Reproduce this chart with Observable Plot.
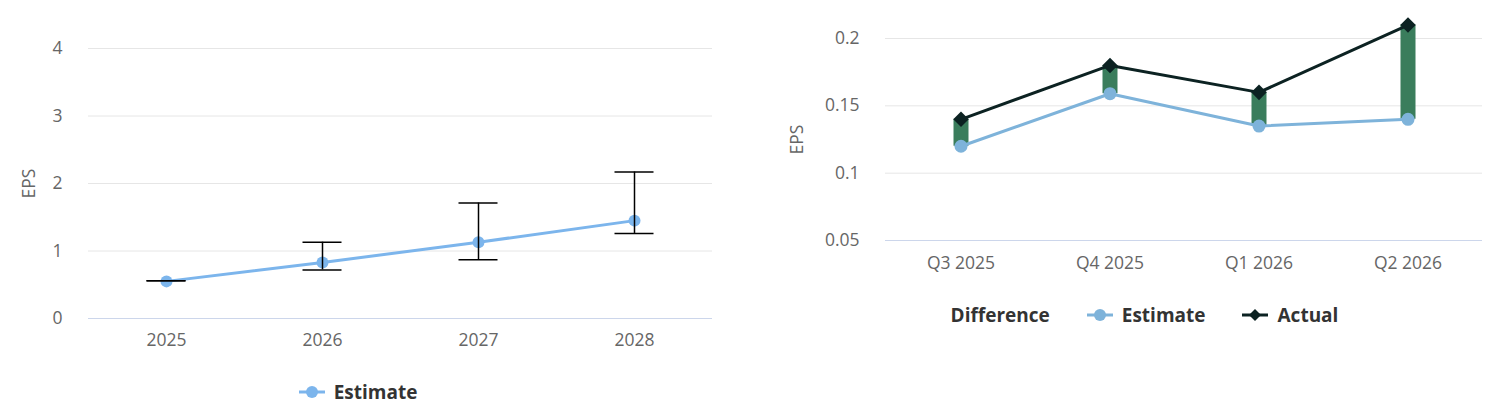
<!DOCTYPE html>
<html>
<head>
<meta charset="utf-8">
<script src="https://cdn.jsdelivr.net/npm/d3@7"></script>
<script src="https://cdn.jsdelivr.net/npm/@observablehq/plot@0.6"></script>
<style>
  body { margin: 0; background: #fff; font-family: "Open Sans", sans-serif; }
  #row { display: flex; width: 1500px; align-items: flex-start; }
  .panel { width: 750px; }
  .legend { display: flex; justify-content: center; align-items: center; font-weight: bold; font-size: 19px; color: #333; }
  .legend .item { display: flex; align-items: center; }
  .legend svg { display: block; }
</style>
</head>
<body>
<div id="row">
  <div class="panel" id="left"></div>
  <div class="panel" id="right"></div>
</div>
<script>
// Annual EPS (left chart)
const years = ["2025", "2026", "2027", "2028"];
const estimateAnnual = [0.55, 0.83, 1.13, 1.45];
const lowAnnual = [0.56, 0.72, 0.87, 1.26];
const highAnnual = [0.56, 1.13, 1.71, 2.17];
const yTicksLeft = [0, 1, 2, 3, 4];

// Quarterly EPS (right chart)
const quarters = ["Q3 2025", "Q4 2025", "Q1 2026", "Q2 2026"];
const estimateQ = [0.12, 0.159, 0.135, 0.14];
const actualQ = [0.14, 0.18, 0.16, 0.21];
const yTicksRight = [0.05, 0.1, 0.15, 0.2];

const estColorL = "#7cb5ec";
const estColorR = "#7eb3da";
const actColor = "#0c2222";
const diffColor = "#3a7d5c";

const annual = years.map((year, i) => ({year, est: estimateAnnual[i], low: lowAnnual[i], high: highAnnual[i]}));
const quarterly = quarters.map((q, i) => ({q, est: estimateQ[i], act: actualQ[i]}));

const baseStyle = {fontFamily: "Open Sans, sans-serif", fontSize: "17.5px", color: "#666", background: "#fff"};

const left = Plot.plot({
  width: 750, height: 360,
  marginLeft: 88, marginRight: 38, marginTop: 48, marginBottom: 42,
  style: baseStyle,
  x: {type: "band", domain: years, padding: 0},
  y: {domain: [0, 4]},
  marks: [
    Plot.gridY(yTicksLeft.slice(1), {stroke: "#e6e6e6", strokeOpacity: 1}),
    Plot.ruleY([0], {stroke: "#ccd6eb"}),
    Plot.axisX({tickSize: 0, tickPadding: 15, fontSize: 17.5, label: null}),
    Plot.axisY(yTicksLeft, {tickSize: 0, tickPadding: 26, fontSize: 17.5, tickFormat: d => String(d), label: "EPS", labelAnchor: "center", labelOffset: 66, labelArrow: "none"}),
    Plot.line(annual, {x: "year", y: "est", stroke: estColorL, strokeWidth: 3}),
    Plot.dot(annual, {x: "year", y: "est", r: 6, fill: estColorL}),
    Plot.ruleX(annual, {x: "year", y1: "low", y2: "high", stroke: "#000", strokeWidth: 1.5}),
    Plot.tickY(annual, {x: "year", y: "low", stroke: "#000", strokeWidth: 1.5, insetLeft: 58.5, insetRight: 58.5}),
    Plot.tickY(annual, {x: "year", y: "high", stroke: "#000", strokeWidth: 1.5, insetLeft: 58.5, insetRight: 58.5})
  ]
});
document.getElementById("left").append(left);

const legL = document.createElement("div");
legL.className = "legend";
legL.style.height = "64px";
legL.style.paddingRight = "34px";
legL.innerHTML = `<div class="item"><svg width="26" height="14"><line x1="0" x2="26" y1="7" y2="7" stroke="${estColorL}" stroke-width="3"/><circle cx="13" cy="7" r="6" fill="${estColorL}"/></svg><span style="margin-left:9px">Estimate</span></div>`;
document.getElementById("left").append(legL);

const right = Plot.plot({
  width: 750, height: 290,
  marginLeft: 135, marginRight: 18, marginTop: 38, marginBottom: 50,
  style: baseStyle,
  x: {type: "band", domain: quarters, padding: 0},
  y: {domain: [0.05, 0.2]},
  marks: [
    Plot.gridY(yTicksRight.slice(1), {stroke: "#e6e6e6", strokeOpacity: 1}),
    Plot.ruleY([0.05], {stroke: "#ccd6eb"}),
    Plot.axisX({tickSize: 0, tickPadding: 16, fontSize: 17.5, label: null}),
    Plot.axisY(yTicksRight, {tickSize: 0, tickPadding: 26, fontSize: 17.5, tickFormat: d => String(d), label: "EPS", labelAnchor: "center", labelOffset: 95, labelArrow: "none"}),
    Plot.ruleX(quarterly, {x: "q", y1: "est", y2: "act", stroke: diffColor, strokeWidth: 15}),
    Plot.line(quarterly, {x: "q", y: "est", stroke: estColorR, strokeWidth: 3}),
    Plot.dot(quarterly, {x: "q", y: "est", r: 6.5, fill: estColorR}),
    Plot.line(quarterly, {x: "q", y: "act", stroke: actColor, strokeWidth: 3}),
    Plot.dot(quarterly, {x: "q", y: "act", r: 7, symbol: "diamond2", fill: actColor, stroke: "none"})
  ]
});
document.getElementById("right").append(right);

const legR = document.createElement("div");
legR.className = "legend";
legR.style.height = "50px";
legR.style.paddingLeft = "39px";
legR.innerHTML = `<div class="item"><span>Difference</span></div>
<div class="item" style="margin-left:37px"><svg width="26" height="14"><line x1="0" x2="26" y1="7" y2="7" stroke="${estColorR}" stroke-width="3"/><circle cx="13" cy="7" r="6" fill="${estColorR}"/></svg><span style="margin-left:9px">Estimate</span></div>
<div class="item" style="margin-left:36px"><svg width="26" height="14"><line x1="0" x2="26" y1="7" y2="7" stroke="${actColor}" stroke-width="3"/><path d="M13,1 L19,7 L13,13 L7,7 Z" fill="${actColor}"/></svg><span style="margin-left:10px">Actual</span></div>`;
document.getElementById("right").append(legR);
</script>
</body>
</html>
